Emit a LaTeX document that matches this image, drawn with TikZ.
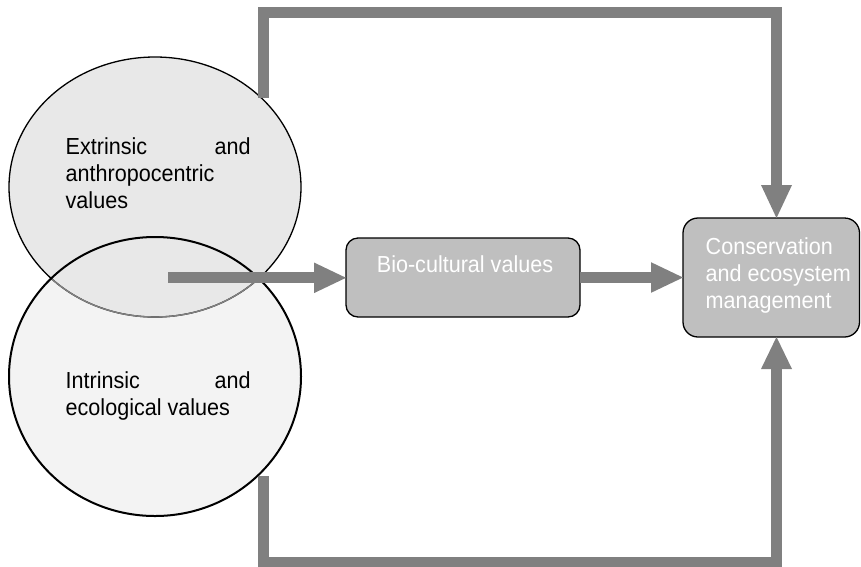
\documentclass[tikz,border=0pt]{standalone}
\usepackage{fontspec}
\setmainfont[FakeStretch=0.93]{Liberation Sans}
\definecolor{linegray}{RGB}{128,128,128}
\definecolor{topfill}{RGB}{232,232,232}
\definecolor{botfill}{RGB}{243,243,243}
\definecolor{boxfill}{RGB}{191,191,191}
\tikzset{
  ell/.style={ellipse, inner sep=0pt, outer sep=0pt},
  valbox/.style={draw=black, line width=1.3pt, fill=boxfill, inner sep=0pt, outer sep=0pt},
  txt/.style={inner sep=0pt, outer sep=0pt, font=\fontsize{23.2}{27}\selectfont},
  wtxt/.style={txt, text=white},
  flow/.style={draw=linegray, line width=10.8pt, line join=miter, line cap=butt},
  head/.style={fill=linegray}
}
\usetikzlibrary{shapes.geometric}
\begin{document}
\begin{tikzpicture}[x=1pt,y=-1pt]
\useasboundingbox (0,0) rectangle (861,566);
% ellipses
\node[ell, fill=botfill, minimum width=292pt, minimum height=279pt] (bot) at (155,376.5) {};
\node[ell, fill=topfill, draw=black, line width=1.3pt, minimum width=292pt, minimum height=260pt] (top) at (155,187) {};
\begin{scope}
  \clip (bot.center) ellipse [x radius=146pt, y radius=139.5pt];
  \draw[linegray, line width=1.4pt] (top.center) ellipse [x radius=146pt, y radius=130pt];
\end{scope}
\draw[black, line width=2pt] (bot.center) ellipse [x radius=146pt, y radius=139.5pt];
% texts in ellipses
\node[txt, anchor=base west, text width=185pt, align=left] (t1) at (65.7,154) {Extrinsic\hfill and};
\node[txt, anchor=base west] (t2) at (65.7,181) {anthropocentric};
\node[txt, anchor=base west] (t3) at (65.7,208.3) {values};
\node[txt, anchor=base west, text width=185pt, align=left] (t4) at (65.7,388.3) {Intrinsic\hfill and};
\node[txt, anchor=base west] (t5) at (65.7,415.7) {ecological values};
% boxes
\node[valbox, rounded corners=12pt, minimum width=234pt, minimum height=79pt] (bio) at (463,277.5) {};
\node[wtxt, anchor=base] (biotext) at (465,272.7) {Bio-cultural values};
\node[valbox, rounded corners=15pt, minimum width=176.5pt, minimum height=119pt] (cons) at (771.25,277.5) {};
\node[wtxt, anchor=base west] (c1) at (705.7,254) {Conservation};
\node[wtxt, anchor=base west] (c2) at (705.7,281.5) {and ecosystem};
\node[wtxt, anchor=base west] (c3) at (705.7,308.5) {management};
% coordinates of connectors
\coordinate (a1s) at (168,277.8);
\coordinate (tl) at (263.5,97.7);
\coordinate (tlc) at (263.5,12.2);
\coordinate (trc) at (776.5,12.2);
\coordinate (tip1) at (776.5,218);
\coordinate (bl) at (263.2,476);
\coordinate (blc) at (263.2,562);
\coordinate (brc) at (776.5,562);
\coordinate (tip2) at (776.5,337);
% arrow: ellipses -> bio
\draw[flow] (a1s) -- ([xshift=-31pt]bio.west |- a1s);
\fill[head] (bio.west |- a1s) -- ++(-32,-15.3) -- ++(0,30.6) -- cycle;
% arrow: bio -> cons
\draw[flow] (bio.east) -- ([xshift=-31pt]cons.west);
\fill[head] (cons.west) -- ++(-32,-15.3) -- ++(0,30.6) -- cycle;
% top loop
\draw[flow] (tl) -- (tlc) -- (trc) -- ([yshift=33pt]tip1);
\fill[head] (tip1) -- ++(-15.5,-33) -- ++(31,0) -- cycle;
% bottom loop
\draw[flow] (bl) -- (blc) -- (brc) -- ([yshift=-32pt]tip2);
\fill[head] (tip2) -- ++(-15.5,32) -- ++(31,0) -- cycle;
\end{tikzpicture}
\end{document}
